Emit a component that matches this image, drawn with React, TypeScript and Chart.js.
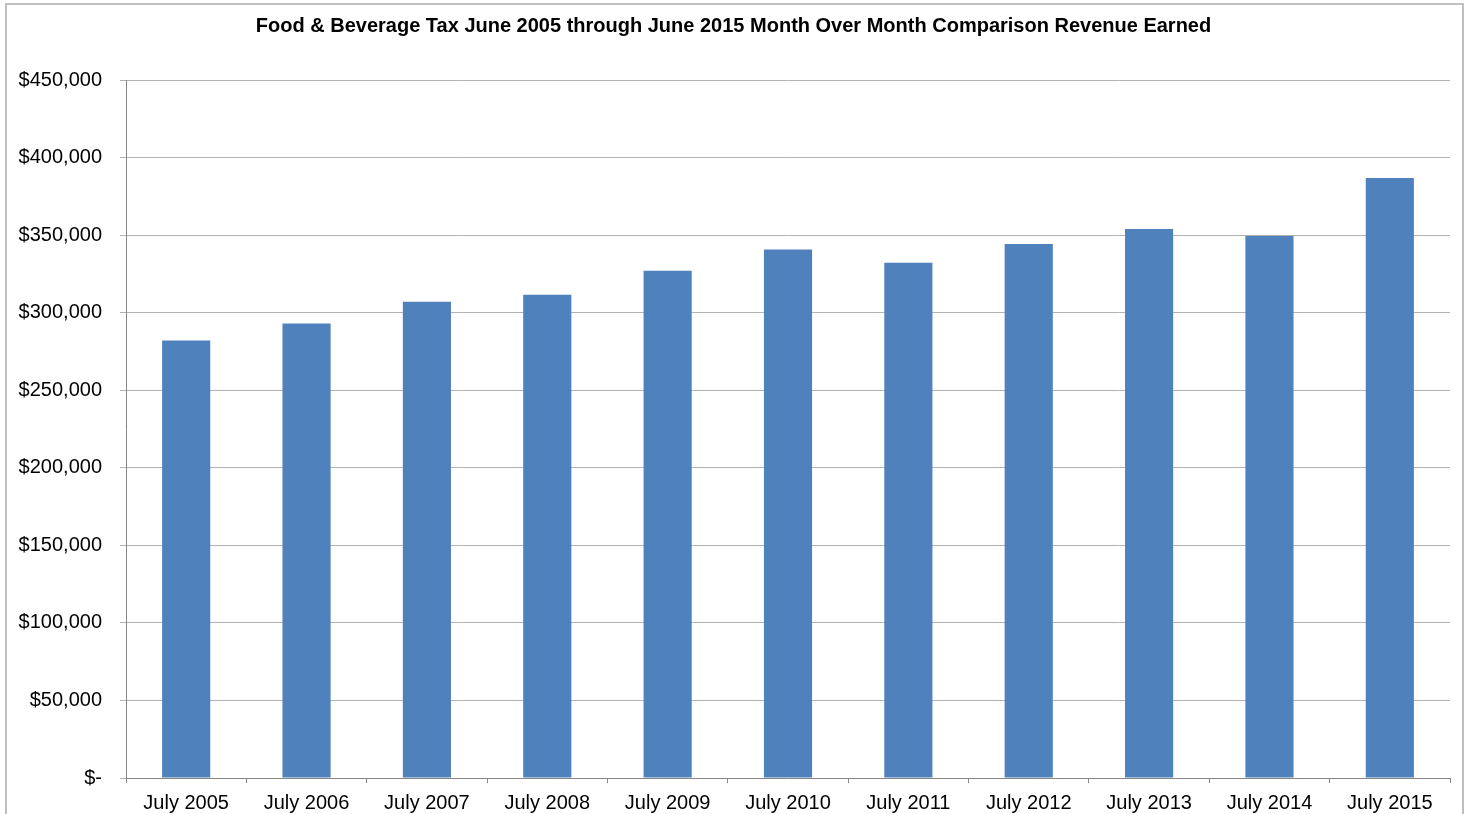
import React, { useEffect, useRef } from "react";
import { Chart, registerables } from "chart.js";

Chart.register(...registerables);

const TITLE = "Food & Beverage Tax June 2005 through June 2015 Month Over Month Comparison Revenue Earned";
const categories = [
  "July 2005", "July 2006", "July 2007", "July 2008", "July 2009", "July 2010",
  "July 2011", "July 2012", "July 2013", "July 2014", "July 2015",
];
const revenue = [282000, 293000, 307000, 311500, 327000, 340700, 332200, 344300, 354000, 349500, 386800];
const yTicks = [0, 50000, 100000, 150000, 200000, 250000, 300000, 350000, 400000, 450000];

const FONT = "'Liberation Sans', Arial, sans-serif";

function fmt(v: number): string {
  if (v === 0) return "$-";
  return "$" + v.toLocaleString("en-US");
}

const titlePlugin = {
  id: "customTitle",
  afterDraw(chart: any) {
    const ctx = chart.ctx;
    ctx.save();
    ctx.font = `bold 20px ${FONT}`;
    ctx.fillStyle = "#000000";
    ctx.textAlign = "center";
    ctx.textBaseline = "middle";
    ctx.fillText(TITLE, chart.width / 2, 26);
    ctx.restore();
  },
};

export default function App() {
  const ref = useRef<HTMLCanvasElement | null>(null);
  useEffect(() => {
    if (!ref.current) return;
    const chart = new Chart(ref.current, {
      type: "bar",
      data: {
        labels: categories,
        datasets: [
          {
            data: revenue,
            backgroundColor: "#4F81BD",
            borderWidth: 0,
            barPercentage: 0.4,
            categoryPercentage: 1,
          },
        ],
      },
      options: {
        responsive: false,
        animation: false,
        layout: { padding: { top: 80, left: 0, right: 17, bottom: 0 } },
        plugins: {
          legend: { display: false },
          title: { display: false },
          tooltip: { enabled: false },
        },
        scales: {
          x: {
            grid: {
              display: true,
              drawOnChartArea: false,
              drawTicks: true,
              tickLength: 5,
              color: "#868686",
              offset: true,
            },
            border: { display: true, color: "#868686", width: 1 },
            ticks: {
              color: "#000000",
              font: { family: FONT, size: 20 },
              padding: 8,
              maxRotation: 0,
              autoSkip: false,
            },
            afterFit(scale: any) {
              scale.height = 36;
            },
          },
          y: {
            min: 0,
            max: 450000,
            afterBuildTicks(scale: any) {
              scale.ticks = yTicks.map((v) => ({ value: v }));
            },
            grid: {
              color: "#B3B3B3",
              tickLength: 6,
              drawTicks: true,
            },
            border: { display: true, color: "#868686", width: 1 },
            ticks: {
              color: "#000000",
              font: { family: FONT, size: 20 },
              padding: 18,
              callback: (v: any) => fmt(Number(v)),
            },
            afterFit(scale: any) {
              scale.width = 126;
            },
          },
        },
      },
      plugins: [titlePlugin],
    });
    return () => chart.destroy();
  }, []);

  return (
    <div style={{ position: "fixed", left: 0, top: 0, width: 1467, height: 814, background: "#ffffff", overflow: "hidden" }}>
      <canvas ref={ref} width={1467} height={814} style={{ position: "absolute", left: 0, top: 0 }} />
      <div
        style={{
          position: "absolute",
          left: 5,
          top: 3,
          width: 1455,
          height: 830,
          border: "2px solid #BFBFBF",
          pointerEvents: "none",
        }}
      />
    </div>
  );
}
